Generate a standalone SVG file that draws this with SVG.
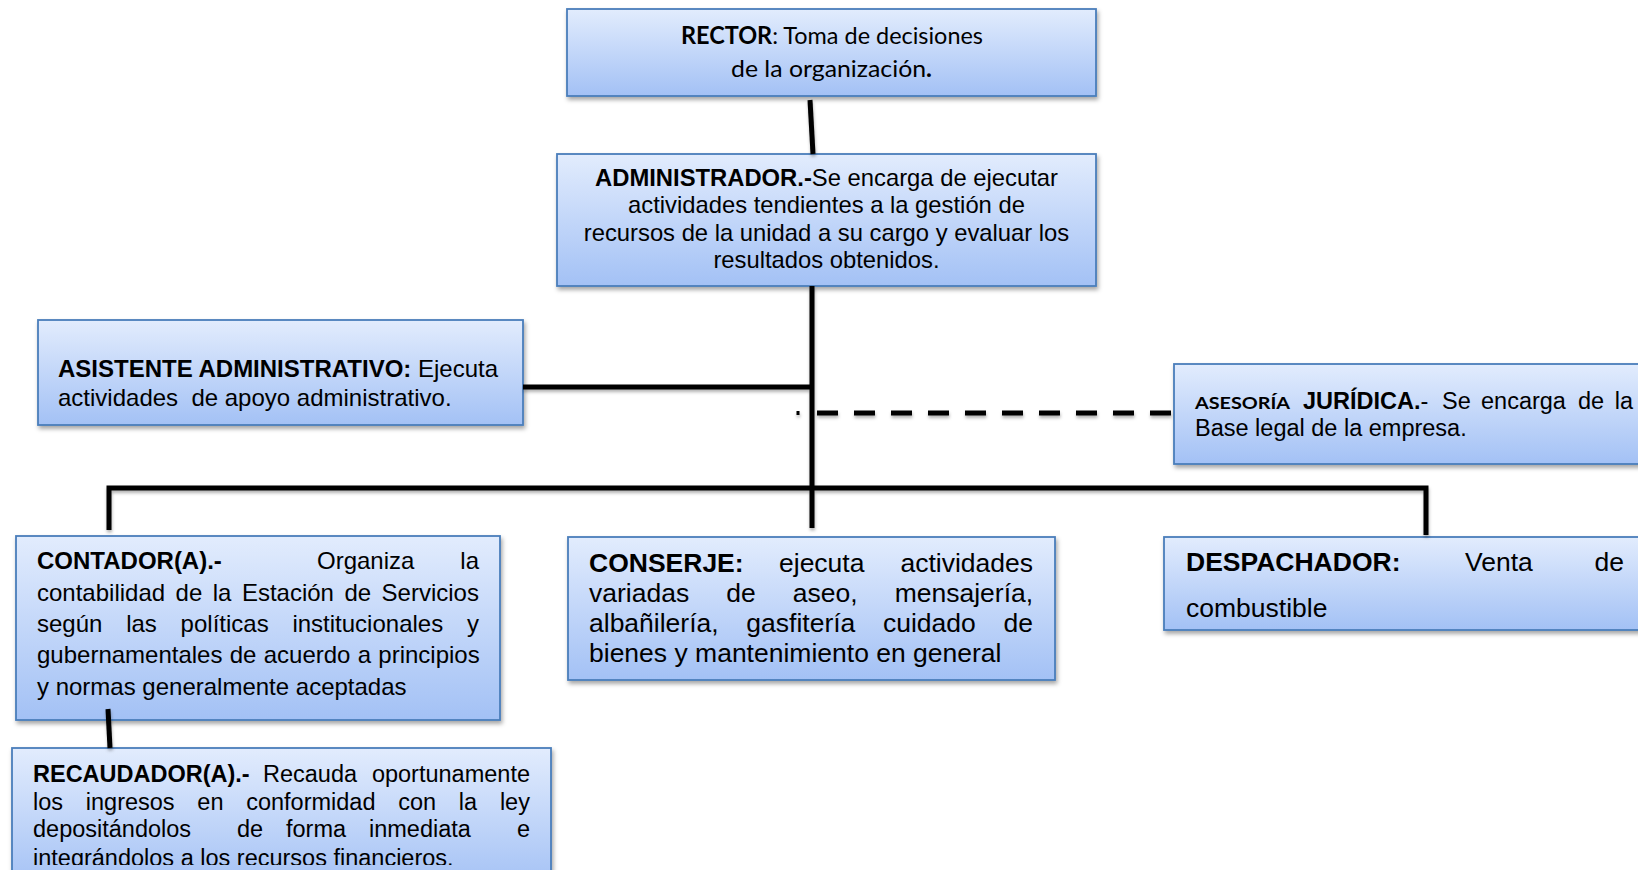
<svg xmlns="http://www.w3.org/2000/svg" width="1638" height="870" viewBox="0 0 1638 870">
<defs>
<linearGradient id="g" x1="0" y1="0" x2="0" y2="1">
<stop offset="0" stop-color="#e2ecfd"/>
<stop offset="1" stop-color="#a3c1f5"/>
</linearGradient>
<filter id="sh" x="-5%" y="-10%" width="115%" height="130%">
<feDropShadow dx="1.5" dy="3" stdDeviation="2" flood-color="#000" flood-opacity="0.35"/>
</filter>
<filter id="lsh" x="-5%" y="-20%" width="110%" height="140%">
<feDropShadow dx="0.5" dy="2.5" stdDeviation="1.5" flood-color="#000" flood-opacity="0.3"/>
</filter>
<clipPath id="clipRec"><rect x="0" y="740" width="600" height="125"/></clipPath>
<style>
.box{fill:url(#g);stroke:#4a7ebb;stroke-width:1.8;filter:url(#sh)}
.t{font-family:"Liberation Sans",Arial,sans-serif;fill:#000}
.c{font-family:Lato,"Liberation Sans",sans-serif;fill:#000}
.b{font-weight:bold}
.ln{stroke:#000;stroke-width:5;fill:none}
</style>
</defs>
<rect width="1638" height="870" fill="#fff"/>

<g id="rector">
<rect class="box" x="567" y="9" width="529" height="87"/>
<text class="c" x="681" y="44" font-size="24" textLength="302" lengthAdjust="spacingAndGlyphs"><tspan class="b">RECTOR</tspan>: Toma de decisiones</text>
<text class="c" x="731" y="77" font-size="24" textLength="201" lengthAdjust="spacingAndGlyphs">de la organización<tspan class="b">.</tspan></text>
</g>

<g id="administrador">
<rect class="box" x="557" y="154" width="539" height="132"/>
<g class="t" font-size="23.8" text-anchor="middle">
<text x="826.5" y="186"><tspan class="b">ADMINISTRADOR.-</tspan>Se encarga de ejecutar</text>
<text x="826.5" y="213">actividades tendientes a la gestión de</text>
<text x="826.5" y="241">recursos de la unidad a su cargo y evaluar los</text>
<text x="826.5" y="268">resultados obtenidos.</text>
</g>
</g>

<g id="asistente">
<rect class="box" x="38" y="320" width="485" height="105"/>
<g class="t" font-size="24">
<text x="58" y="377"><tspan class="b">ASISTENTE ADMINISTRATIVO:</tspan> Ejecuta</text>
<text x="58" y="406" xml:space="preserve">actividades  de apoyo administrativo.</text>
</g>
</g>

<g id="asesoria">
<rect class="box" x="1174" y="364" width="490" height="100"/>
<text class="c b" x="1195" y="409" font-size="17" textLength="95" lengthAdjust="spacingAndGlyphs">ASESORÍA</text>
<g class="t" font-size="23.5">
<text x="1303" y="409"><tspan class="b">JURÍDICA.</tspan>-</text>
<text x="1442" y="409">Se</text>
<text x="1481" y="409">encarga</text>
<text x="1578" y="409">de</text>
<text x="1633" y="409" text-anchor="end">la</text>
<text x="1195" y="436">Base legal de la empresa.</text>
</g>
</g>

<g id="contador">
<rect class="box" x="16" y="536" width="484" height="184"/>
<g class="t" font-size="24">
<text x="37" y="569" class="t b">CONTADOR(A).-</text>
<text x="317" y="569">Organiza</text>
<text x="479" y="569" text-anchor="end">la</text>
<text x="37" y="601" word-spacing="3.8">contabilidad de la Estación de Servicios</text>
<text x="37" y="632" word-spacing="17.1">según las políticas institucionales y</text>
<text x="37" y="663" word-spacing="0.6">gubernamentales de acuerdo a principios</text>
<text x="37" y="695">y normas generalmente aceptadas</text>
</g>
</g>

<g id="recaudador">
<rect class="box" x="12" y="748" width="539" height="140"/>
<g class="t" font-size="23.5" clip-path="url(#clipRec)">
<text x="33" y="782" class="t b">RECAUDADOR(A).-</text>
<text x="263" y="782">Recauda</text>
<text x="530" y="782" text-anchor="end">oportunamente</text>
<text x="33" y="810" word-spacing="16.2">los ingresos en conformidad con la ley</text>
<text x="33" y="837">depositándolos</text>
<text x="237" y="837">de</text>
<text x="286" y="837">forma</text>
<text x="369" y="837">inmediata</text>
<text x="530" y="837" text-anchor="end">e</text>
<text x="33" y="866">integrándolos a los recursos financieros.</text>
</g>
</g>

<g id="conserje">
<rect class="box" x="568" y="537" width="487" height="143"/>
<g class="t" font-size="26.5">
<text x="589" y="572" class="t b">CONSERJE:</text>
<text x="779" y="572">ejecuta</text>
<text x="1033" y="572" text-anchor="end">actividades</text>
<text x="589" y="602" word-spacing="29.7">variadas de aseo, mensajería,</text>
<text x="589" y="632" word-spacing="20.3">albañilería, gasfitería cuidado de</text>
<text x="589" y="662">bienes y mantenimiento en general</text>
</g>
</g>

<g id="despachador">
<rect class="box" x="1164" y="537" width="490" height="93"/>
<g class="t" font-size="26.5">
<text x="1186" y="571" class="t b">DESPACHADOR:</text>
<text x="1465" y="571">Venta</text>
<text x="1624" y="571" text-anchor="end">de</text>
<text x="1186" y="617">combustible</text>
</g>
</g>

<g id="connectors" filter="url(#lsh)">
<line class="ln" x1="810" y1="100" x2="813" y2="154"/>
<line class="ln" x1="812" y1="286" x2="812" y2="528"/>
<line class="ln" x1="523" y1="387" x2="812" y2="387"/>
<path class="ln" d="M109,530 L109,488 L1426,488 L1426,535" stroke-linejoin="miter"/>
<line class="ln" x1="108" y1="709" x2="110" y2="748"/>
<rect x="796.5" y="411" width="3" height="4" fill="#000"/>
<line class="ln" x1="817" y1="413" x2="1174" y2="413" stroke-dasharray="21 16"/>
</g>
</svg>
